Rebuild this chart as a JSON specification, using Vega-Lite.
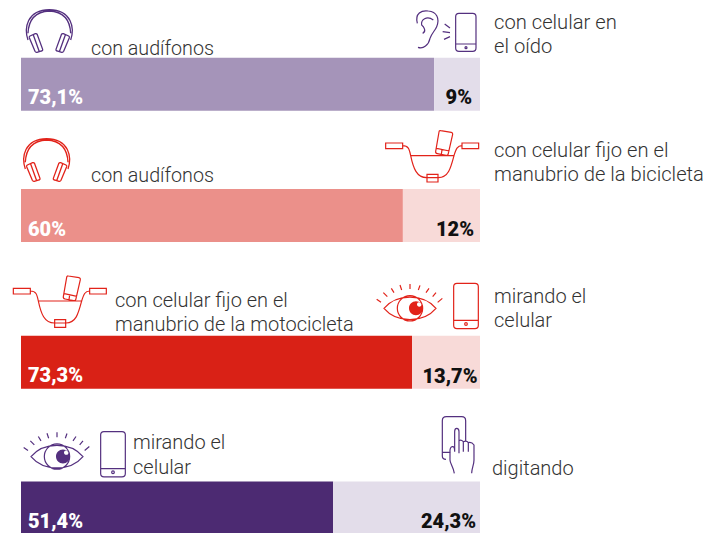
{"$schema":"https://vega.github.io/schema/vega-lite/v6.json","width":707,"height":533,"padding":0,"autosize":{"type":"fit","contains":"padding"},"background":"#ffffff","config":{"view":{"stroke":null}},
"datasets":{"bars":[
{"row":1,"segment":"a","start":0,"end":90},{"row":1,"segment":"b","start":90,"end":100},
{"row":2,"segment":"c","start":0,"end":83.2},{"row":2,"segment":"d","start":83.2,"end":100},
{"row":3,"segment":"e","start":0,"end":85.2},{"row":3,"segment":"f","start":85.2,"end":100},
{"row":4,"segment":"g","start":0,"end":68},{"row":4,"segment":"h","start":68,"end":100}],
"left":[{"row":1,"label":"73,1%"},{"row":2,"label":"60%"},{"row":3,"label":"73,3%"},{"row":4,"label":"51,4%"}]},
"layer":[
{"data":{"name":"bars"},"mark":{"type":"bar","orient":"horizontal","size":53},"encoding":{"x":{"field":"start","type":"quantitative","axis":null,"scale":{"domain":[-4.575,149.455],"range":[0,707],"nice":false,"zero":false,"padding":0}},"x2":{"field":"end"},"y":{"field":"row","type":"quantitative","axis":null,"scale":{"domain":[1,2,3,4],"range":[84.3,215.5,362.3,508],"nice":false,"zero":false,"padding":0}},"color":{"field":"segment","type":"nominal","legend":null,"scale":{"domain":["a","b","c","d","e","f","g","h"],"range":["#A594B9","#E3DDEA","#EB908A","#F8DAD8","#D92116","#F8DAD8","#4C2A72","#E3DDEA"]}}}},
{"data":{"name":"left"},"mark":{"type":"text","align":"left","baseline":"alphabetic","dx":7,"dy":20,"font":"Roboto","fontWeight":900,"fontSize":20,"fill":"#ffffff"},"encoding":{"x":{"datum":0,"type":"quantitative"},"y":{"field":"row","type":"quantitative"},"text":{"field":"label"}}},
{"data":{"values":[{"row":1,"label":"9%"}]},"mark":{"type":"text","align":"right","baseline":"alphabetic","dx":-8,"dy":20,"font":"Roboto","fontWeight":900,"fontSize":20,"fill":"#111111"},"encoding":{"x":{"datum":100,"type":"quantitative"},"y":{"field":"row","type":"quantitative"},"text":{"field":"label"}}},
{"data":{"values":[{"row":2,"label":"12%"}]},"mark":{"type":"text","align":"right","baseline":"alphabetic","dx":-6,"dy":20.5,"font":"Roboto","fontWeight":900,"fontSize":20,"fill":"#111111"},"encoding":{"x":{"datum":100,"type":"quantitative"},"y":{"field":"row","type":"quantitative"},"text":{"field":"label"}}},
{"data":{"values":[{"row":3,"label":"13,7%"}]},"mark":{"type":"text","align":"right","baseline":"alphabetic","dx":-2.5,"dy":20.4,"font":"Roboto","fontWeight":900,"fontSize":20,"fill":"#111111"},"encoding":{"x":{"datum":100,"type":"quantitative"},"y":{"field":"row","type":"quantitative"},"text":{"field":"label"}}},
{"data":{"values":[{"row":4,"label":"24,3%"}]},"mark":{"type":"text","align":"right","baseline":"alphabetic","dx":-4,"dy":19.7,"font":"Roboto","fontWeight":900,"fontSize":20,"fill":"#111111"},"encoding":{"x":{"datum":100,"type":"quantitative"},"y":{"field":"row","type":"quantitative"},"text":{"field":"label"}}},
{"data":{"values":[{"row":1,"caption":"con audífonos"}]},"mark":{"type":"text","align":"left","baseline":"alphabetic","lineBreak":"\n","lineHeight":24,"dx":70,"dy":-29.3,"font":"Roboto","fontWeight":300,"fontSize":19.7,"fill":"#333333"},"encoding":{"x":{"datum":0,"type":"quantitative"},"y":{"field":"row","type":"quantitative"},"text":{"field":"caption"}}},
{"data":{"values":[{"row":1,"caption":"con celular en\nel oído"}]},"mark":{"type":"text","align":"left","baseline":"alphabetic","lineBreak":"\n","lineHeight":24,"dx":473,"dy":-55.3,"font":"Roboto","fontWeight":300,"fontSize":20.2,"fill":"#333333"},"encoding":{"x":{"datum":0,"type":"quantitative"},"y":{"field":"row","type":"quantitative"},"text":{"field":"caption"}}},
{"data":{"values":[{"row":2,"caption":"con audífonos"}]},"mark":{"type":"text","align":"left","baseline":"alphabetic","lineBreak":"\n","lineHeight":24,"dx":70,"dy":-33.5,"font":"Roboto","fontWeight":300,"fontSize":19.7,"fill":"#333333"},"encoding":{"x":{"datum":0,"type":"quantitative"},"y":{"field":"row","type":"quantitative"},"text":{"field":"caption"}}},
{"data":{"values":[{"row":2,"caption":"con celular fijo en el\nmanubrio de la bicicleta"}]},"mark":{"type":"text","align":"left","baseline":"alphabetic","lineBreak":"\n","lineHeight":24,"dx":473,"dy":-58.5,"font":"Roboto","fontWeight":300,"fontSize":20.2,"fill":"#333333"},"encoding":{"x":{"datum":0,"type":"quantitative"},"y":{"field":"row","type":"quantitative"},"text":{"field":"caption"}}},
{"data":{"values":[{"row":3,"caption":"con celular fijo en el\nmanubrio de la motocicleta"}]},"mark":{"type":"text","align":"left","baseline":"alphabetic","lineBreak":"\n","lineHeight":24,"dx":94,"dy":-55.3,"font":"Roboto","fontWeight":300,"fontSize":20,"fill":"#333333"},"encoding":{"x":{"datum":0,"type":"quantitative"},"y":{"field":"row","type":"quantitative"},"text":{"field":"caption"}}},
{"data":{"values":[{"row":3,"caption":"mirando el\ncelular"}]},"mark":{"type":"text","align":"left","baseline":"alphabetic","lineBreak":"\n","lineHeight":24,"dx":473,"dy":-59.3,"font":"Roboto","fontWeight":300,"fontSize":20,"fill":"#333333"},"encoding":{"x":{"datum":0,"type":"quantitative"},"y":{"field":"row","type":"quantitative"},"text":{"field":"caption"}}},
{"data":{"values":[{"row":4,"caption":"mirando el\ncelular"}]},"mark":{"type":"text","align":"left","baseline":"alphabetic","lineBreak":"\n","lineHeight":24.5,"dx":112,"dy":-59,"font":"Roboto","fontWeight":300,"fontSize":20,"fill":"#333333"},"encoding":{"x":{"datum":0,"type":"quantitative"},"y":{"field":"row","type":"quantitative"},"text":{"field":"caption"}}},
{"data":{"values":[{"row":4,"caption":"digitando"}]},"mark":{"type":"text","align":"left","baseline":"alphabetic","dx":471,"dy":-33.5,"font":"Roboto","fontWeight":300,"fontSize":20,"fill":"#333333"},"encoding":{"x":{"datum":0,"type":"quantitative"},"y":{"field":"row","type":"quantitative"},"text":{"field":"caption"}}},
{"data":{"values":[{"row":1}]},"mark":{"type":"point","filled":false,"opacity":1,"size":0.4444,"stroke":"#54307F","strokeWidth":1.3,"xOffset":-21,"yOffset":-84.3,"shape":"M84 120C72 85 80 30 148 29C216 30 224 85 212 120M84 100C86 55 110 35 148 33C186 35 210 55 212 100M90 108L106 101Q110 100 112 104L128 148Q129 152 125 153L111 157Q107 158 105 154L88 113Q87 110 90 108ZM100 105L118 155M206 108L190 101Q186 100 184 104L168 148Q167 152 171 153L185 157Q189 158 191 154L208 113Q209 110 206 108ZM196 105L178 155"},"encoding":{"x":{"datum":0,"type":"quantitative"},"y":{"field":"row","type":"quantitative"}}},
{"data":{"values":[{"row":2}]},"mark":{"type":"point","filled":false,"opacity":1,"size":0.4444,"stroke":"#E2231A","strokeWidth":1.3,"xOffset":-23.67,"yOffset":-86.5,"shape":"M84 120C72 85 80 30 148 29C216 30 224 85 212 120M84 100C86 55 110 35 148 33C186 35 210 55 212 100M90 108L106 101Q110 100 112 104L128 148Q129 152 125 153L111 157Q107 158 105 154L88 113Q87 110 90 108ZM100 105L118 155M206 108L190 101Q186 100 184 104L168 148Q167 152 171 153L185 157Q189 158 191 154L208 113Q209 110 206 108ZM196 105L178 155"},"encoding":{"x":{"datum":0,"type":"quantitative"},"y":{"field":"row","type":"quantitative"}}},
{"data":{"values":[{"row":1}]},"mark":{"type":"point","filled":false,"opacity":1,"size":0.4444,"stroke":"#54307F","strokeWidth":1.2,"xOffset":359,"yOffset":-84.3,"shape":"M112 70C104 40 125 30 145 33C170 35 180 55 170 80C165 92 155 100 150 115C146 135 130 148 114 142M128 100C140 95 132 80 125 75C122 60 140 45 160 60M194 72L210 84M188 95L210 98M192 118L210 110M237 40H278Q288 40 288 50V144Q288 154 278 154H237Q227 154 227 144V50Q227 40 237 40ZM227 132H288M255 143a3 3 0 1 0 6 0a3 3 0 1 0 -6 0"},"encoding":{"x":{"datum":0,"type":"quantitative"},"y":{"field":"row","type":"quantitative"}}},
{"data":{"values":[{"row":2}]},"mark":{"type":"point","filled":false,"opacity":1,"size":0.4444,"stroke":"#E2231A","strokeWidth":1.2,"xOffset":359,"yOffset":-90.5,"shape":"M17 54H68V71H17ZM246 54H296V71H246ZM68 62C85 62 88 72 92 92C100 130 110 158 140 158H175C205 158 212 130 222 92C228 72 232 62 246 62M92 92H222M141 148H174V171H141ZM182 17L214 22Q219 23 218 28L205 85Q204 92 198 91L172 86Q166 85 167 79L177 21Q178 16 182 17ZM170 70L208 78M186 74L184 88"},"encoding":{"x":{"datum":0,"type":"quantitative"},"y":{"field":"row","type":"quantitative"}}},
{"data":{"values":[{"row":3}]},"mark":{"type":"point","filled":false,"opacity":1,"size":0.4444,"stroke":"#E2231A","strokeWidth":1.2,"xOffset":-13.33,"yOffset":-91.97,"shape":"M17 54H68V71H17ZM246 54H296V71H246ZM68 62C85 62 88 72 92 92C100 130 110 158 140 158H175C205 158 212 130 222 92C228 72 232 62 246 62M92 92H222M141 148H174V171H141ZM182 17L214 22Q219 23 218 28L205 85Q204 92 198 91L172 86Q166 85 167 79L177 21Q178 16 182 17ZM170 70L208 78M186 74L184 88"},"encoding":{"x":{"datum":0,"type":"quantitative"},"y":{"field":"row","type":"quantitative"}}},
{"data":{"values":[{"row":3}]},"mark":{"type":"point","filled":false,"opacity":1,"size":0.4444,"stroke":"#E2231A","strokeWidth":1.2,"xOffset":339,"yOffset":-92.3,"shape":"M72 115C110 70 190 70 228 115C190 160 110 160 72 115ZM188 115a38 38 0 1 1 -76 0a38 38 0 1 1 76 0M50 88L63 97M70 68L82 80M94 55L102 68M120 45L125 60M150 42V57M180 46L175 60M207 55L198 68M228 68L218 80M247 85L233 97M291 40H345Q355 40 355 50V166Q355 176 345 176H291Q281 176 281 166V50Q281 40 291 40ZM281 151H355M314 162a4 4 0 1 0 8 0a4 4 0 1 0 -8 0"},"encoding":{"x":{"datum":0,"type":"quantitative"},"y":{"field":"row","type":"quantitative"}}},
{"data":{"values":[{"row":3}]},"mark":{"type":"point","filled":true,"opacity":1,"size":0.4444,"fill":"#E2231A","xOffset":339,"yOffset":-92.3,"shape":"M189 115a21 21 0 1 1 -42 0a21 21 0 1 1 42 0ZM185 103a7 7 0 1 0 -14 0a7 7 0 1 0 14 0Z"},"encoding":{"x":{"datum":0,"type":"quantitative"},"y":{"field":"row","type":"quantitative"}}},
{"data":{"values":[{"row":4}]},"mark":{"type":"point","filled":false,"opacity":1,"size":0.4444,"stroke":"#54307F","strokeWidth":1.2,"xOffset":-14,"yOffset":-89.8,"shape":"M72 115C110 70 190 70 228 115C190 160 110 160 72 115ZM188 115a38 38 0 1 1 -76 0a38 38 0 1 1 76 0M50 88L63 97M70 68L82 80M94 55L102 68M120 45L125 60M150 42V57M180 46L175 60M207 55L198 68M228 68L218 80M247 85L233 97M291 40H345Q355 40 355 50V166Q355 176 345 176H291Q281 176 281 166V50Q281 40 291 40ZM281 151H355M314 162a4 4 0 1 0 8 0a4 4 0 1 0 -8 0"},"encoding":{"x":{"datum":0,"type":"quantitative"},"y":{"field":"row","type":"quantitative"}}},
{"data":{"values":[{"row":4}]},"mark":{"type":"point","filled":true,"opacity":1,"size":0.4444,"fill":"#54307F","xOffset":-14,"yOffset":-89.8,"shape":"M189 115a21 21 0 1 1 -42 0a21 21 0 1 1 42 0ZM185 103a7 7 0 1 0 -14 0a7 7 0 1 0 14 0Z"},"encoding":{"x":{"datum":0,"type":"quantitative"},"y":{"field":"row","type":"quantitative"}}},
{"data":{"values":[{"row":4}]},"mark":{"type":"point","filled":false,"opacity":1,"size":0.4444,"stroke":"#54307F","strokeWidth":1.2,"xOffset":299,"yOffset":-98,"shape":"M378 148Q367 148 367 138V32Q367 20 379 20H425Q437 20 437 32V95M367 127H392M403 190C400 170 390 160 390 150V120Q392 108 400 110Q404 112 404 125V65Q404 55 410 55Q417 55 417 65V130M417 92Q423 88 430 95V125M430 95Q440 90 445 98V125M445 98Q455 95 462 105V150C462 165 455 175 455 190"},"encoding":{"x":{"datum":0,"type":"quantitative"},"y":{"field":"row","type":"quantitative"}}}
]}
